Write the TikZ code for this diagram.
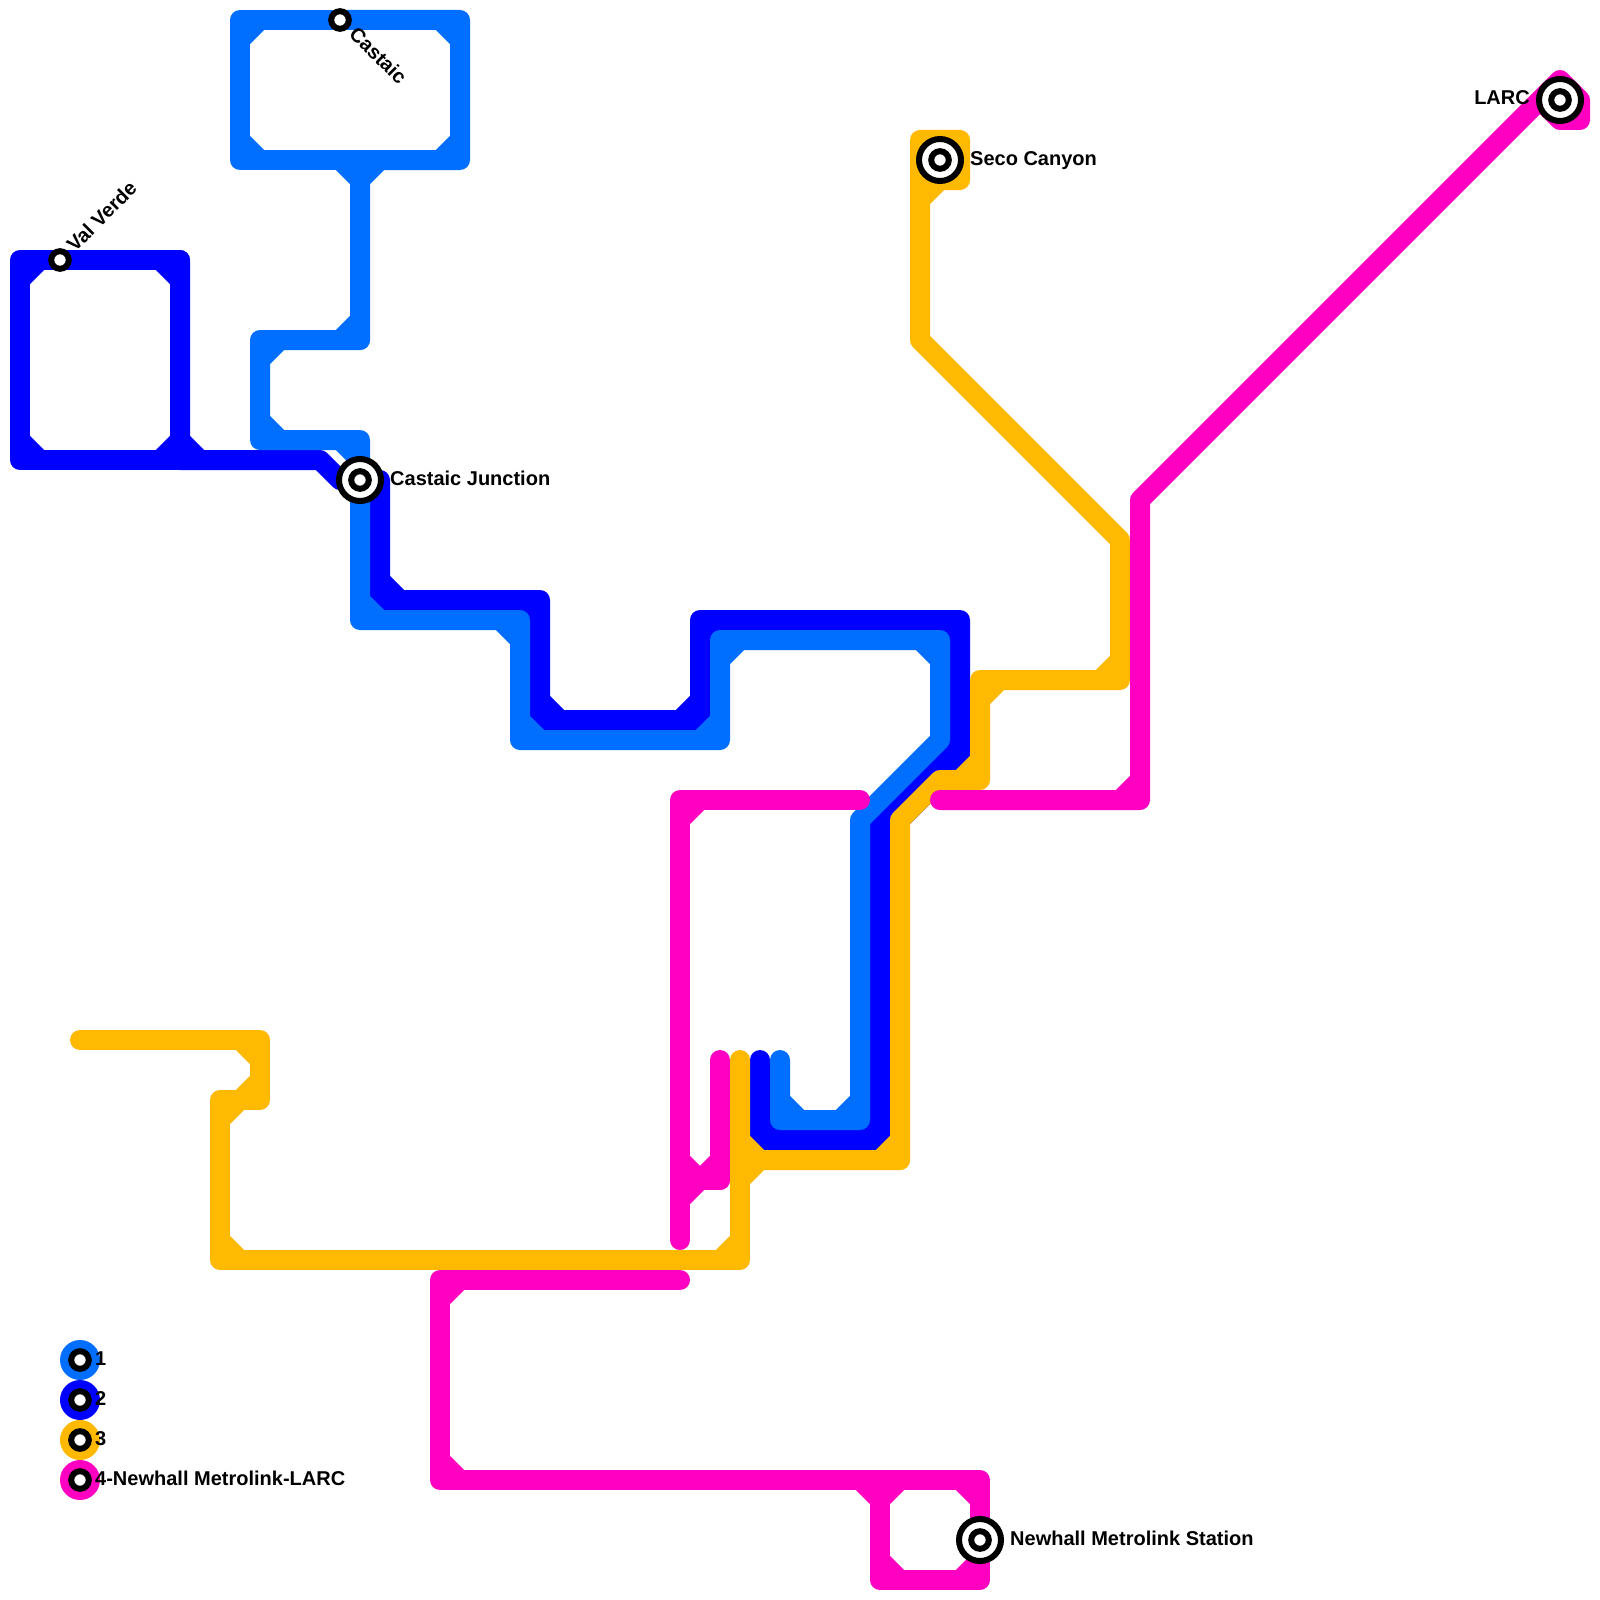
\documentclass[tikz,border=0pt]{standalone}
\usepackage{fontspec}
\setmainfont{Liberation Sans}
\definecolor{lineA}{HTML}{006FFF}
\definecolor{lineB}{HTML}{0000FF}
\definecolor{lineC}{HTML}{FFB900}
\definecolor{lineD}{HTML}{FF00C3}
\tikzset{
  tube/.style={line width=20pt,line join=round,line cap=round},
  chord/.style={line width=20pt,line cap=butt},
  stnlabel/.style={inner sep=0pt,font=\fontsize{20}{24}\selectfont\bfseries},
  stnsmall/.style={circle,draw=black,fill=white,line width=6pt,minimum size=17.6pt,inner sep=0pt},
  stnbig/.style={circle,draw=black,fill=white,line width=6pt,minimum size=42pt,inner sep=0pt},
}
% a metro line: polyline with round joins, plus a chamfer on the inside of each right-angle bend
\newcommand\metro[2]{%
  \global\let\mPath\empty
  \foreach \mX/\mY [count=\mI] in {#2}{%
    \ifnum\mI=1 \xdef\mPath{(\mX,\mY)}\else \xdef\mPath{\mPath -- (\mX,\mY)}\fi
    \ifnum\mI>2
      \pgfmathsetmacro\mUx{(\mAx-\mBx)/100}%
      \pgfmathsetmacro\mUy{(\mAy-\mBy)/100}%
      \pgfmathsetmacro\mVx{(\mX-\mBx)/100}%
      \pgfmathsetmacro\mVy{(\mY-\mBy)/100}%
      \pgfmathsetmacro\mDot{\mUx*\mVx+\mUy*\mVy}%
      \pgfmathtruncatemacro\mSq{abs(\mDot)<0.001}%
      \ifnum\mSq=1
        \pgfmathsetmacro\mLu{veclen(\mUx,\mUy)}%
        \pgfmathsetmacro\mLv{veclen(\mVx,\mVy)}%
        \draw[chord,#1] ({\mBx+20*\mUx/\mLu},{\mBy+20*\mUy/\mLu}) -- ({\mBx+20*\mVx/\mLv},{\mBy+20*\mVy/\mLv});
      \fi
    \fi
    \ifnum\mI>1 \xdef\mAx{\mBx}\xdef\mAy{\mBy}\fi
    \xdef\mBx{\mX}\xdef\mBy{\mY}%
  }%
  \draw[tube,#1] \mPath;
}
\begin{document}
\begin{tikzpicture}[x=1pt,y=-1pt]
\useasboundingbox (0,0) rectangle (1600,1600);
\fill[white] (0,0) rectangle (1600,1600);

% line 2
\metro{lineB}{60/260,20/260,20/460,180/460,180/260,60/260}
\metro{lineB}{180/260,180/460,320/460,340/480,380/480,380/600,540/600,540/720,700/720,700/620,960/620,960/760,880/840,880/1140,760/1140,760/1060}
\metro{lineB}{960/740,880/820,880/840}

% line 1
\metro{lineA}{340/20,240/20,240/160,360/160,360/340}
\metro{lineA}{340/20,460/20,460/160,360/160,360/340,260/340,260/440,360/440,360/620,520/620,520/740,720/740,720/640,940/640,940/740,860/820,860/1120,780/1120,780/1060}

% line 3
\metro{lineC}{80/1040,260/1040,260/1100,220/1100,220/1260,740/1260,740/1160,900/1160}
\metro{lineC}{740/1060,740/1160,900/1160,900/820,940/780,980/780,980/680,1120/680,1120/540,920/340,920/180,960/180,960/140,920/140,920/180}

% line 4
\metro{lineD}{680/1240,680/1180,720/1180,720/1060}
\metro{lineD}{860/800,680/800,680/1180,720/1180}
\metro{lineD}{940/800,1140/800,1140/500,1560/80,1580/100,1580/120,1560/120,1540/100}
\metro{lineD}{680/1280,440/1280,440/1480,880/1480,880/1580,980/1580,980/1480,880/1480,880/1580}

% legend
\foreach \n/\c/\ty/\txt in {a/lineA/1360/1,b/lineB/1400/2,c/lineC/1440/3,d/lineD/1480/4-Newhall Metrolink-LARC}{
  \fill[\c] (80,\ty) circle[radius=20];
  \node[stnsmall] (legend\n) at (80,\ty) {};
  \node[stnlabel,anchor=base west] (legendtext\n) at (95,\ty+5) {\txt};
}

% stations
\node[stnsmall] (valverde) at (60,260) {};
\node[stnlabel,anchor=base west,rotate=45] (valverdetext) at (75,253) {Val Verde};
\node[stnsmall] (castaic) at (340,20) {};
\node[stnlabel,anchor=base west,rotate=-45] (castaictext) at (348,35) {Castaic};
\node[stnbig] (junction) at (360,480) {};
\node[stnsmall] (junctionin) at (360,480) {};
\node[stnlabel,anchor=base west] (junctiontext) at (390,485) {Castaic Junction};
\node[stnbig] (seco) at (940,160) {};
\node[stnsmall] (secoin) at (940,160) {};
\node[stnlabel,anchor=base west] (secotext) at (970,165) {Seco Canyon};
\node[stnbig] (newhall) at (980,1540) {};
\node[stnsmall] (newhallin) at (980,1540) {};
\node[stnlabel,anchor=base west] (newhalltext) at (1010,1545) {Newhall Metrolink Station};
\node[stnbig] (larc) at (1560,100) {};
\node[stnsmall] (larcin) at (1560,100) {};
\node[stnlabel,anchor=base east] (larctext) at (1530,105) {LARC};
\end{tikzpicture}
\end{document}
